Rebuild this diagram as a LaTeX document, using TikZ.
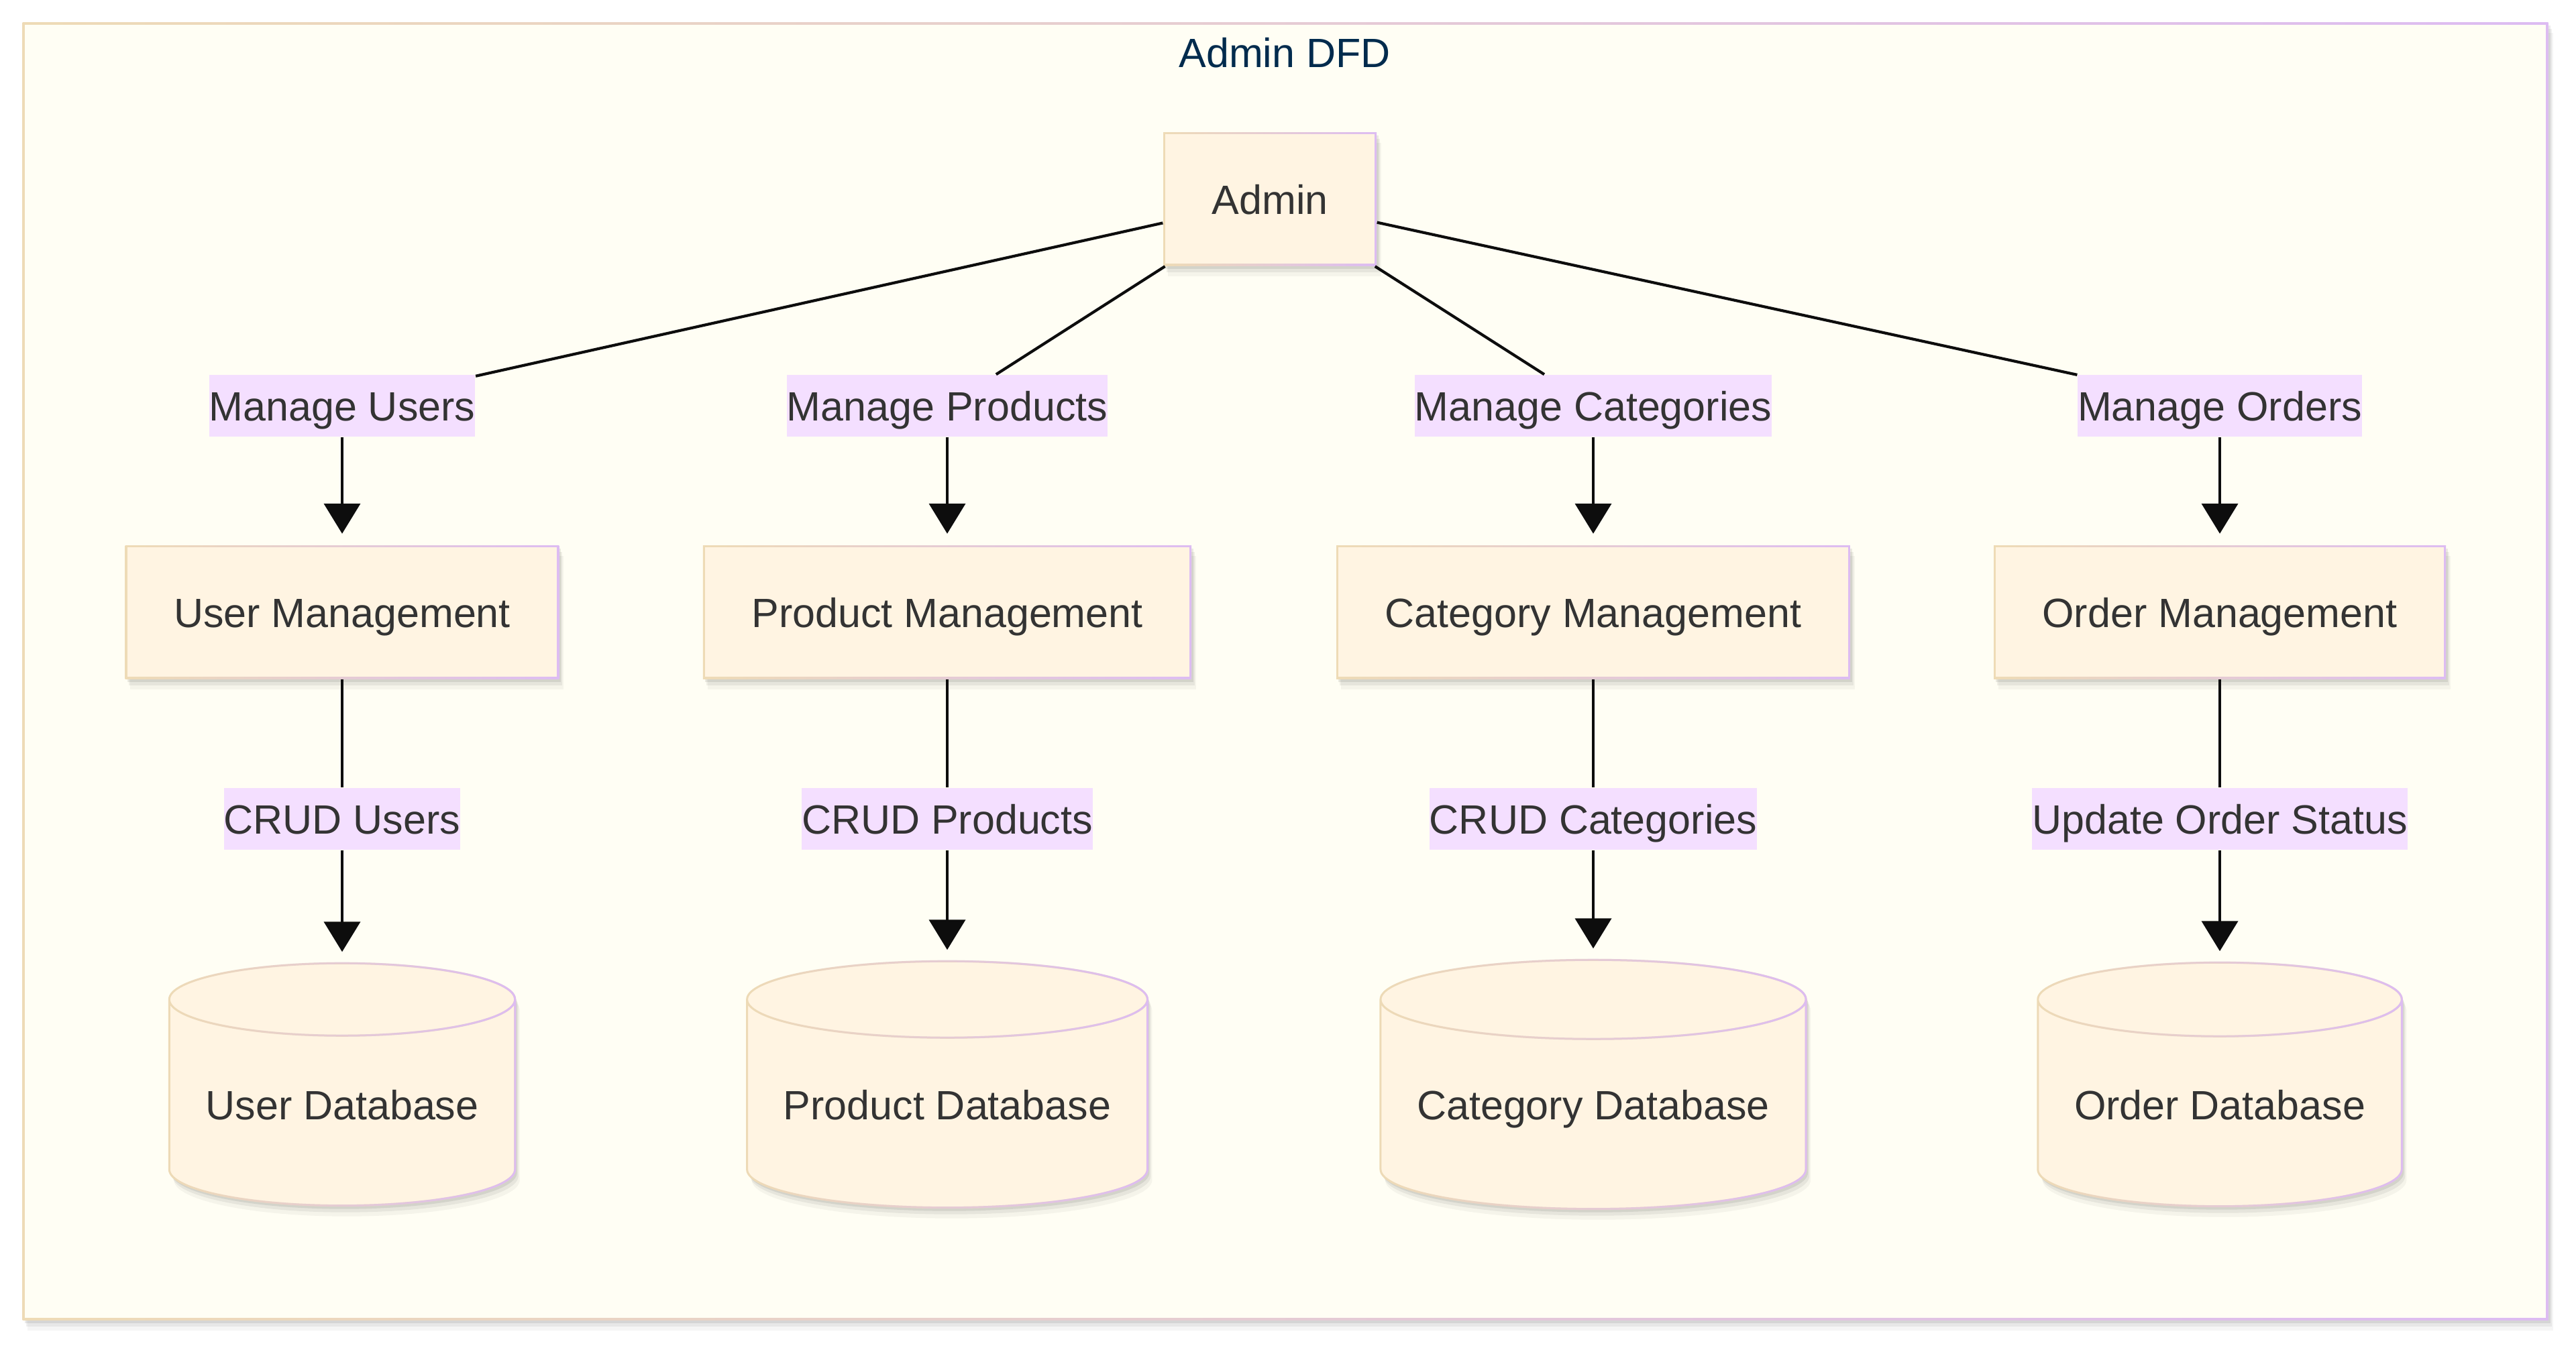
\documentclass[tikz,border=0pt]{standalone}
\usepackage{fontspec}
\setmainfont{Liberation Sans}
\usepackage{tikz}
\usetikzlibrary{positioning}
\usetikzlibrary{arrows.meta,calc,backgrounds,fadings}
\pgfdeclarelayer{backdrop}
\pgfsetlayers{backdrop,background,main}
\definecolor{paper}{HTML}{FFFEF4}
\definecolor{boxfill}{HTML}{FFF4E2}
\definecolor{edgetan}{HTML}{EEDBB6}
\definecolor{edgelilac}{HTML}{DDBCF2}
\definecolor{tagfill}{HTML}{F4DFFF}
\definecolor{ink}{HTML}{333333}
\definecolor{titleink}{HTML}{002B4D}
\newcommand*{\nodeFont}{\fontsize{17.36}{20.8}\selectfont}
\newcommand*{\yBox}{10.94}
\newcommand*{\yManage}{14.02}
\newcommand*{\yCrud}{7.86}
\newcommand*{\yStore}{3.90}
% cylinder round a store node: #1 node, #2 y radius of the ends
\newcommand{\drawstore}[2]{%
  \path[storeline] let \p1=(#1.north west), \p2=(#1.south east), \n1={(\x2-\x1)/2} in
    (\x1,\y1-#2) -- (\x1,\y2+#2) arc[start angle=180,end angle=360,x radius=\n1,y radius=#2]
    -- (\x2,\y1-#2) arc[start angle=0,end angle=180,x radius=\n1,y radius=#2] -- cycle
    (\x1,\y1-#2) arc[start angle=180,end angle=360,x radius=\n1,y radius=#2];}

\begin{document}
\begin{tikzpicture}[
  softshadow/.style={preaction={fill=black,fill opacity=0.04,transform canvas={xshift=0.07cm,yshift=-0.16cm}},
    preaction={fill=black,fill opacity=0.06,transform canvas={xshift=0.05cm,yshift=-0.10cm}},
    preaction={fill=black,fill opacity=0.08,transform canvas={xshift=0.03cm,yshift=-0.05cm}}},
  % border running from tan (left) to lilac (right), inner fill on top
  rim/.style 2 args={left color=edgetan,right color=edgelilac,
    path picture={\fill[#1] ([shift={(#2,-#2)}]path picture bounding box.north west)
      rectangle ([shift={(-#2,#2)}]path picture bounding box.south east);}},
  frame/.style={rectangle,rim={paper}{0.035cm},softshadow},
  heading/.style={text=titleink,font=\nodeFont,inner sep=0,text height=0.47cm,text depth=0.01cm},
  box/.style={rectangle,rim={boxfill}{0.03cm},softshadow,
    text=ink,font=\nodeFont,inner xsep=0.725cm,inner ysep=0,minimum height=1.99cm,
    text height=0.47cm,text depth=0.01cm},
  store/.style={rectangle,text=ink,font=\nodeFont,inner xsep=0.535cm,inner ysep=0,
    minimum height=2.52cm+2*#1,text height=1.20cm,text depth=0.14cm},
  storeline/.style={fill=boxfill,draw=edgetan,line width=0.03cm,softshadow,
    postaction={draw=edgelilac,line width=0.03cm,path fading=west}},
  flowtag/.style={fill=tagfill,text=ink,font=\nodeFont,inner sep=0,minimum height=0.92cm,
    text height=0.47cm,text depth=0.01cm},
  flow/.style={draw=black!95,line width=0.042cm},
  flowto/.style={flow,-{Triangle[width=0.54cm,length=0.45cm]},shorten >=0.17cm}]
	\useasboundingbox (0,0) rectangle (38.40,20.07);
	\begin{pgfonlayer}{backdrop}
	    \node[frame,minimum width=37.65cm,minimum height=19.35cm] (dfd) at (19.16,10.06) {};
	\end{pgfonlayer}
	\node[heading] (ttl) at (19.15,19.29) {Admin DFD};
	\node[box] (admin) at (18.93,17.10) {Admin};
	% processes
	\node[box] (um) at (5.10,\yBox) {User Management};
	\node[box] (pm) at (14.12,\yBox) {Product Management};
	\node[box] (cm) at (23.75,\yBox) {Category Management};
	\node[box] (om) at (33.09,\yBox) {Order Management};
	% data flows
	\node[flowtag] (lmu) at (5.10,\yManage) {Manage Users};
	\node[flowtag] (lmp) at (14.12,\yManage) {Manage Products};
	\node[flowtag] (lmc) at (23.75,\yManage) {Manage Categories};
	\node[flowtag] (lmo) at (33.09,\yManage) {Manage Orders};
	\node[flowtag] (lcu) at (5.10,\yCrud) {CRUD Users};
	\node[flowtag] (lcp) at (14.12,\yCrud) {CRUD Products};
	\node[flowtag] (lcc) at (23.75,\yCrud) {CRUD Categories};
	\node[flowtag] (luo) at (33.09,\yCrud) {Update Order Status};
	% data stores
	\node[store=0.54cm] (udb) at (5.10,\yStore) {User Database};
	\node[store=0.57cm] (pdb) at (14.12,\yStore) {Product Database};
	\node[store=0.59cm] (cdb) at (23.75,\yStore) {Category Database};
	\node[store=0.55cm] (odb) at (33.09,\yStore) {Order Database};
	\begin{scope}[on background layer]
	    \drawstore{udb}{0.54cm}\drawstore{pdb}{0.57cm}\drawstore{cdb}{0.59cm}\drawstore{odb}{0.55cm}
	\end{scope}
	\foreach \tagname/\boxname in {lmu/um,lmp/pm,lmc/cm,lmo/om}{
	    \draw[flow] (admin) -- (\tagname);
	    \draw[flowto] (\tagname) -- (\boxname);
	}
	\foreach \boxname/\tagname/\storename in {um/lcu/udb,pm/lcp/pdb,cm/lcc/cdb,om/luo/odb}{
	    \draw[flow] (\boxname) -- (\tagname);
	    \draw[flowto] (\tagname) -- (\storename);
	}
\end{tikzpicture}
\end{document}
